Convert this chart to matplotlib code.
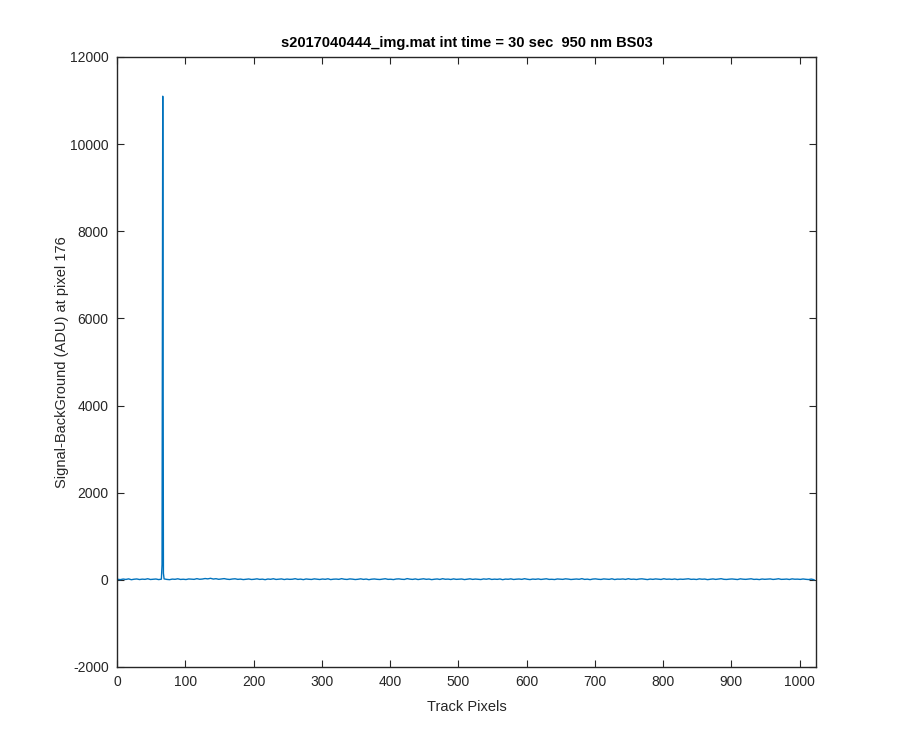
import numpy as np
import matplotlib
matplotlib.use("Agg")
import matplotlib.pyplot as plt

# Baseline samples (every 4th track pixel, starting at pixel 1)
baseline_start = 1
baseline_step = 4
baseline_vals = [
    12, 5, 18, 9, 22, 3, 14, 20, 7, 16, 11, 25, 8, 13, 19, 6,
    15, 21, 10, 4, 17, 12, 24, 9, 14, 7, 20, 16, 11, 27, 13, 18,
    30, 22, 35, 18, 26, 12, 21, 28, 15, 9, 19, 24, 11, 17, 6, 14,
    20, 8, 13, 23, 10, 16, 4, 19, 12, 25, 9, 15, 21, 7, 18, 11,
    14, 26, 10, 17, 5, 20, 13, 9, 22, 16, 8, 19, 12, 24, 6, 15,
    18, 11, 27, 14, 9, 21, 16, 7, 13, 23, 10, 18, 4, 15, 20, 12,
    8, 17, 25, 11, 14, 6, 19, 22, 13, 9, 28, 16, 10, 21, 7, 15,
    24, 12, 18, 5, 14, 20, 9, 26, 13, 17, 8, 22, 11, 16, 19, 6,
    15, 23, 10, 18, 12, 7, 21, 14, 25, 9, 16, 11, 20, 4, 17, 13,
    22, 8, 15, 19, 11, 26, 14, 6, 18, 12, 21, 9, 16, 24, 10, 13,
    7, 20, 15, 11, 23, 17, 8, 14, 19, 12, 27, 10, 16, 5, 18, 22,
    13, 9, 21, 15, 11, 24, 7, 17, 14, 20, 10, 26, 12, 16, 8, 19,
    23, 14, 6, 18, 11, 21, 15, 9, 25, 13, 17, 10, 20, 7, 16, 12,
    19, 24, 11, 15, 8, 22, 14, 18, 5, 13, 21, 10, 17, 26, 12, 9,
    16, 20, 13, 7, 23, 15, 11, 18, 24, 10, 14, 6, 19, 12, 17, 21,
    9, 15, 25, 11, 13, 18, 8, 22, 14, 16, 10, 20, 12, 7, 17, 3,
]
# Spike samples
spike_px = [66, 67, 68]
spike_vals = [350, 11100, 150]

title = "s2017040444_img.mat int time = 30 sec  950 nm BS03"
xlabel = "Track Pixels"
ylabel = "Signal-BackGround (ADU) at pixel 176"
xticks = list(range(0, 1001, 100))
yticks = list(range(-2000, 12001, 2000))

bx = np.arange(len(baseline_vals)) * baseline_step + baseline_start
x = np.concatenate([bx, spike_px])
y = np.concatenate([baseline_vals, spike_vals])
order = np.argsort(x, kind="stable")
x, y = x[order], y[order]

plt.rcParams['font.family'] = ['Liberation Sans', 'DejaVu Sans']
plt.rcParams['axes.unicode_minus'] = False
fig = plt.figure(figsize=(9, 7.5), dpi=100)
ax = fig.add_axes([0.13, 0.1107, 0.7767, 0.8133])
ax.plot(x, y, color='#0072BD', lw=1.0)
ax.set_xlim(0, 1024)
ax.set_ylim(-2000, 12000)
ax.set_xticks(xticks)
ax.set_yticks(yticks)
ax.tick_params(direction='in', length=5, width=0.8, colors='#262626', labelsize=10,
               top=True, right=True, pad=6)
for s in ax.spines.values():
    s.set_color('#262626')
    s.set_linewidth(1.0)
ax.set_title(title, fontsize=10.5, fontweight='bold', color='black', pad=7)
ax.set_xlabel(xlabel, fontsize=10.5, color='#262626', labelpad=8)
ax.set_ylabel(ylabel, fontsize=10.5, color='#262626', labelpad=1)
fig.savefig("out.png", dpi=100)
